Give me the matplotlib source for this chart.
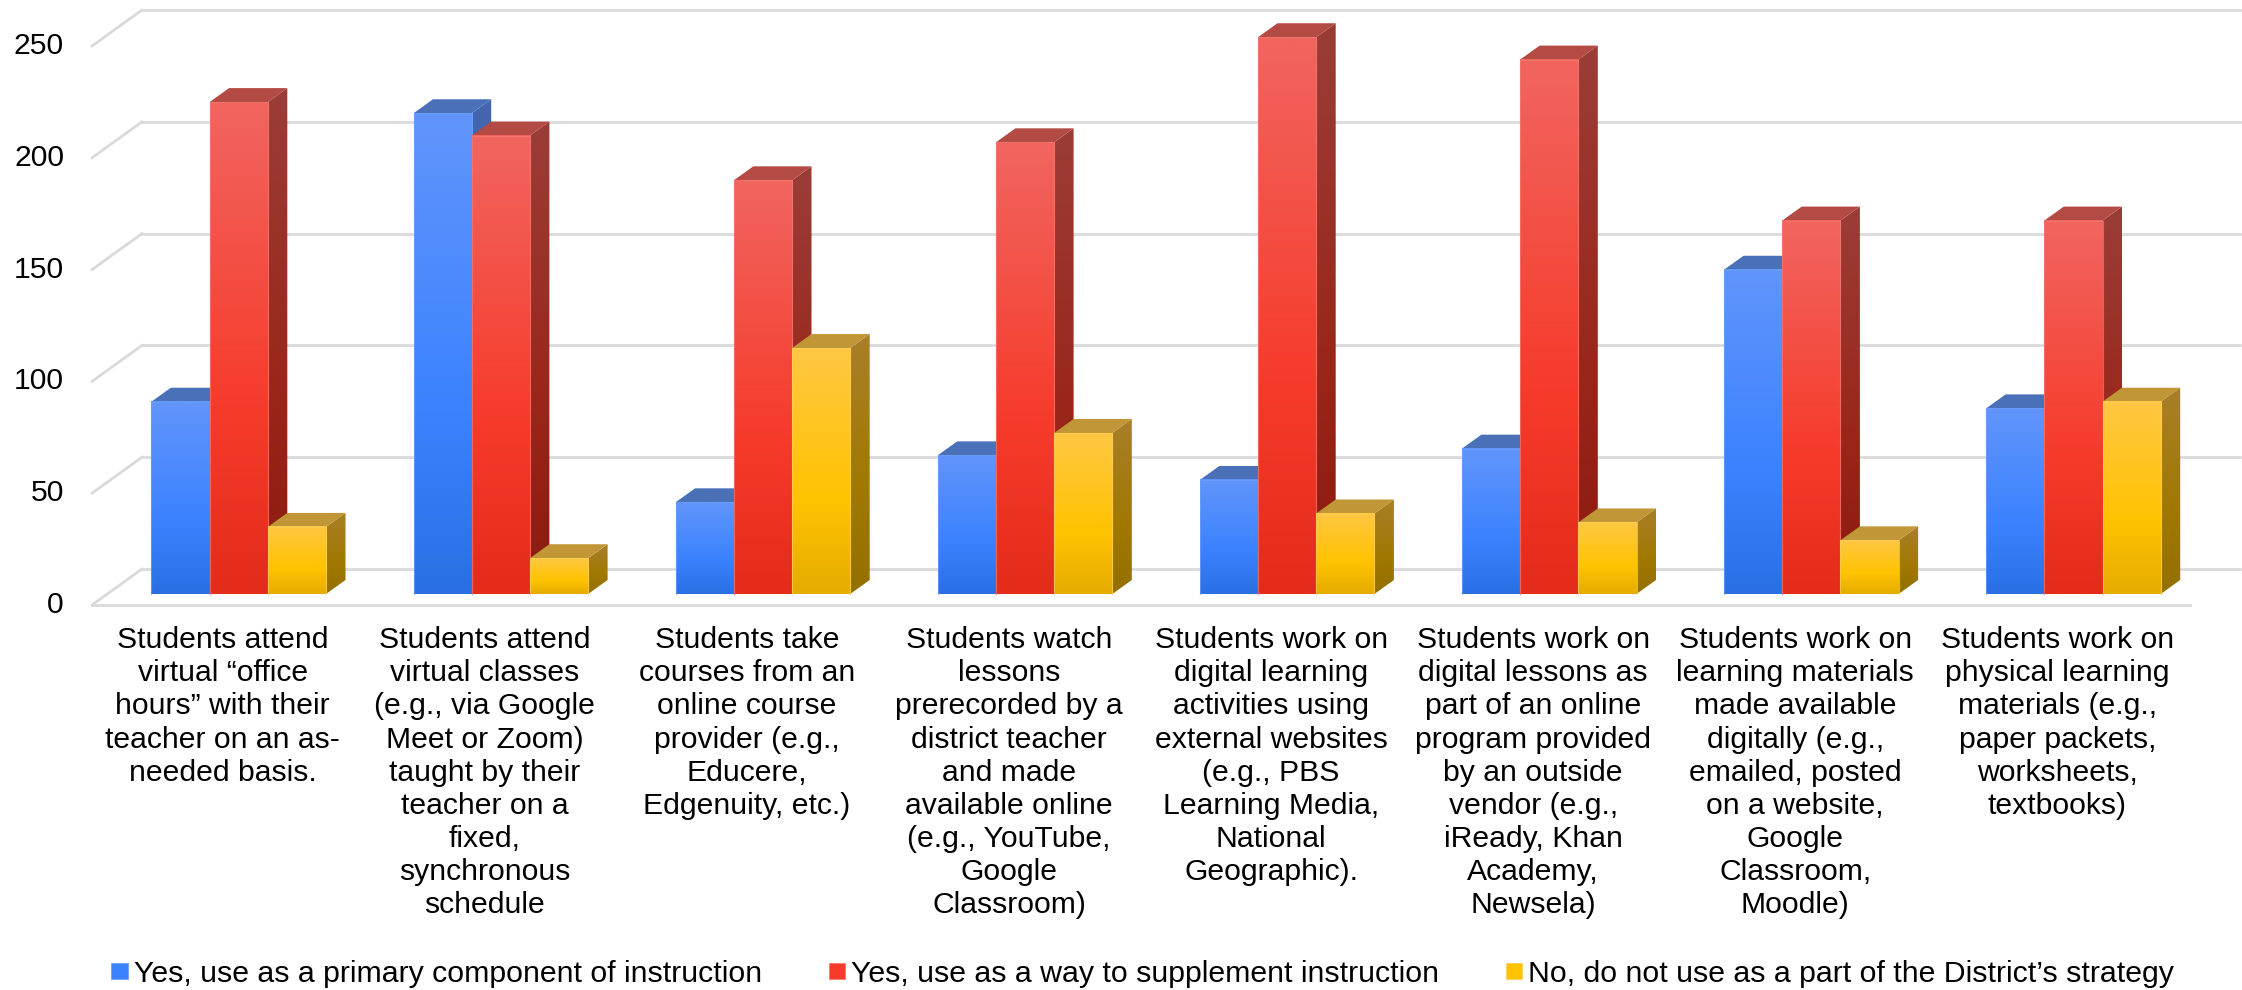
import numpy as np
import matplotlib
matplotlib.use("Agg")
import matplotlib.pyplot as plt
from matplotlib.patches import Polygon, Patch
from matplotlib.colors import to_rgb

plt.rcParams["font.family"] = ["Liberation Sans", "DejaVu Sans"]

categories = [
    "Students attend\nvirtual \u201coffice\nhours\u201d with their\nteacher on an as-\nneeded basis.",
    "Students attend\nvirtual classes\n(e.g., via Google\nMeet or Zoom)\ntaught by their\nteacher on a\nfixed,\nsynchronous\nschedule",
    "Students take\ncourses from an\nonline course\nprovider (e.g.,\nEducere,\nEdgenuity, etc.)",
    "Students watch\nlessons\nprerecorded by a\ndistrict teacher\nand made\navailable online\n(e.g., YouTube,\nGoogle\nClassroom)",
    "Students work on\ndigital learning\nactivities using\nexternal websites\n(e.g., PBS\nLearning Media,\nNational\nGeographic).",
    "Students work on\ndigital lessons as\npart of an online\nprogram provided\nby an outside\nvendor (e.g.,\niReady, Khan\nAcademy,\nNewsela)",
    "Students work on\nlearning materials\nmade available\ndigitally (e.g.,\nemailed, posted\non a website,\nGoogle\nClassroom,\nMoodle)",
    "Students work on\nphysical learning\nmaterials (e.g.,\npaper packets,\nworksheets,\ntextbooks)",
]
primary = [86, 215, 41, 62, 51, 65, 145, 83]
supplement = [220, 205, 185, 202, 249, 239, 167, 167]
not_used = [30, 16, 110, 72, 36, 32, 24, 86]
series_names = [
    "Yes, use as a primary component of instruction",
    "Yes, use as a way to supplement instruction",
    "No, do not use as a part of the District\u2019s strategy",
]
y_ticks = [0, 50, 100, 150, 200, 250]

W, H = 2242, 990
PX_PER_UNIT = 2.236   # px per value unit
PX_PER_GROUP = 262.1
BASE_PX = 594         # bottom of bars, from image top
GROUP0_PX = 238.7     # centre of first group
FONT = 21.7

fig = plt.figure(figsize=(W / 100, H / 100), dpi=100)
ax = fig.add_axes([0, 0, 1, 1])
ax.axis("off")
xlim = (-GROUP0_PX / PX_PER_GROUP, (W - GROUP0_PX) / PX_PER_GROUP)
ylim = ((BASE_PX - H) / PX_PER_UNIT, BASE_PX / PX_PER_UNIT)

bar_w = 58.2 / PX_PER_GROUP
depth_x = 19.5 / PX_PER_GROUP
depth_y = 14.0 / PX_PER_UNIT

# floor and walls
grid_c = "#dadada"
left_x = (92 - GROUP0_PX) / PX_PER_GROUP
back_x = (142 - GROUP0_PX) / PX_PER_GROUP
right_front = (2190 - GROUP0_PX) / PX_PER_GROUP
right_back = (2240 - GROUP0_PX) / PX_PER_GROUP
front_off = -11 / PX_PER_UNIT
back_off = 25 / PX_PER_UNIT
for v in y_ticks:
    ax.plot([left_x, back_x], [v + front_off, v + back_off], color=grid_c, lw=2, zorder=1)
    ax.plot([back_x, right_back], [v + back_off, v + back_off], color=grid_c, lw=2, zorder=1)
    ax.text((64 - GROUP0_PX) / PX_PER_GROUP, v + front_off, str(v), ha="right", va="center",
            fontsize=FONT, color="black")
ax.plot([left_x, right_front], [front_off, front_off], color=grid_c, lw=2, zorder=1)

# top, middle, bottom colours of each series
stops = [
    ["#6195fb", "#3b82ff", "#2a70e4"],
    ["#f1655f", "#f63b2b", "#e42c1b"],
    ["#ffc743", "#ffc300", "#e5ac00"],
]
tops = ["#4a70b8", "#b34a44", "#c09636"]
sides = [
    ["#4466ad", "#2f5bb0", "#234f9f"],
    ["#9a3d37", "#9a2519", "#8c1a10"],
    ["#a87f28", "#a07800", "#947000"],
]
edges = ["#6ea0fa", "#f47b72", "#ffcf5a"]


def gradient(cols):
    c = [np.array(to_rgb(x)) for x in cols]
    t = np.linspace(0, 1, 64)[:, None]
    img = np.where(t < 0.62, c[0] + (c[1] - c[0]) * t / 0.62,
                   c[1] + (c[2] - c[1]) * (t - 0.62) / 0.38)
    return img[:, None, :]


for i in range(len(categories)):
    for s, values in enumerate([primary, supplement, not_used]):
        x0 = i + (s - 1.5) * bar_w
        x1 = x0 + bar_w
        v = values[i]
        z = 2 + i * 10 + s * 3
        # side face
        side_poly = Polygon([(x1, 0), (x1 + depth_x, depth_y), (x1 + depth_x, v + depth_y), (x1, v)],
                            transform=ax.transData, fc="none", ec="none")
        ax.add_patch(side_poly)
        im = ax.imshow(gradient(sides[s]), extent=(x1, x1 + depth_x, 0, v + depth_y),
                       aspect="auto", zorder=z, interpolation="bilinear")
        im.set_clip_path(side_poly)
        # top face
        ax.add_patch(Polygon([(x0, v), (x0 + depth_x, v + depth_y), (x1 + depth_x, v + depth_y), (x1, v)],
                             fc=tops[s], ec="none", zorder=z))
        # front face
        ax.imshow(gradient(stops[s]), extent=(x0, x1, 0, v), aspect="auto", zorder=z + 1,
                  interpolation="bilinear")
        ax.plot([x0, x0, x1, x1], [0, v, v, 0], color=edges[s], lw=0.8, alpha=0.7, zorder=z + 1)

ax.set_xlim(xlim)
ax.set_ylim(ylim)

for i, label in enumerate(categories):
    ax.text(i - 16 / PX_PER_GROUP, (BASE_PX - 626) / PX_PER_UNIT, label, ha="center", va="top",
            fontsize=FONT, linespacing=1.235, color="black")

handles = [Patch(facecolor=stops[k][1], edgecolor=edges[k], lw=0.6) for k in range(3)]
fig.legend(handles, series_names, ncol=3, frameon=False, fontsize=21.75,
           loc="center left", bbox_to_anchor=(0.0497, 0.0165),
           handlelength=0.55, handleheight=0.47, handletextpad=0.2,
           columnspacing=2.2, borderpad=0, borderaxespad=0)

fig.savefig("out.png", dpi=100)
